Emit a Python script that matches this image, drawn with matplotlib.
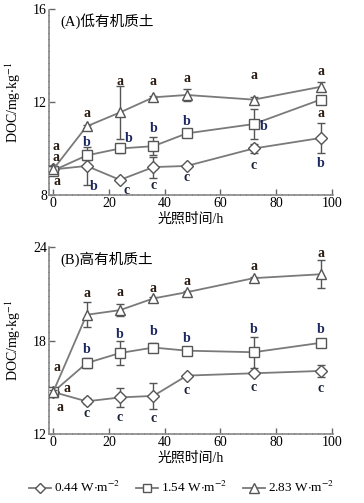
import numpy as np
import matplotlib
matplotlib.use('Agg')
import matplotlib.pyplot as plt
from matplotlib.lines import Line2D

plt.rcParams['font.family'] = ['Liberation Serif', 'Noto Sans CJK SC']
plt.rcParams['mathtext.fontset'] = 'stix'

hours = [0, 12, 24, 36, 48, 72, 96]
series_names = ['0.44 W$\\cdot$m$^{-2}$', '1.54 W$\\cdot$m$^{-2}$', '2.83 W$\\cdot$m$^{-2}$']

# panel A: low organic soil
a_low = [9.1, 9.25, 8.65, 9.2, 9.25, 10.0, 10.45]
a_low_err = [0.15, 0.8, 0.05, 0.45, 0.05, 0.2, 0.65]
a_mid = [9.05, 9.7, 10.0, 10.1, 10.65, 11.05, 12.1]
a_mid_err = [0.15, 0.2, 0.2, 0.4, 0.05, 0.65, 0.1]
a_high = [9.1, 10.95, 11.55, 12.2, 12.3, 12.1, 12.65]
a_high_err = [0.15, 0.05, 1.15, 0.05, 0.25, 0.1, 0.2]

# panel B: high organic soil
b_low = [14.7, 14.1, 14.35, 14.45, 15.75, 15.9, 16.05]
b_low_err = [0.1, 0.2, 0.6, 0.85, 0.05, 0.1, 0.4]
b_mid = [14.7, 16.55, 17.2, 17.55, 17.35, 17.25, 17.85]
b_mid_err = [0.1, 0.3, 0.8, 0.3, 0.05, 1.0, 0.1]
b_high = [14.7, 19.65, 19.95, 20.7, 21.1, 22.0, 22.25]
b_high_err = [0.1, 0.8, 0.4, 0.1, 0.1, 0.1, 0.9]

# significance letters: (x, y, letter)
a_letters_low = [(1.5, 8.6, 'a'), (14.5, 8.35, 'b'), (26.5, 8.2, 'c'), (36, 8.42, 'c'),
                 (48, 8.75, 'c'), (72, 9.25, 'c'), (96, 9.35, 'b')]
a_letters_mid = [(1, 9.6, 'a'), (12, 10.25, 'b'), (27, 10.45, 'b'), (36, 10.88, 'b'),
                 (48, 11.15, 'b'), (75.5, 10.95, 'b'), (96, 11.5, 'a')]
a_letters_high = [(1, 10.1, 'a'), (12, 11.5, 'a'), (24, 12.9, 'a'), (36, 12.9, 'a'),
                  (48, 13.0, 'a'), (72, 13.15, 'a'), (96, 13.3, 'a')]
b_letters_low = [(2.5, 13.7, 'a'), (12, 13.3, 'c'), (24, 13.05, 'c'), (36, 13.0, 'c'),
                 (48, 14.8, 'c'), (72, 15.0, 'c'), (96, 14.95, 'c')]
b_letters_mid = [(5, 14.9, 'a'), (12, 17.45, 'b'), (24, 18.4, 'b'), (36, 18.6, 'b'),
                 (48, 18.15, 'b'), (72, 18.7, 'b'), (96, 18.7, 'b')]
b_letters_high = [(1.3, 16.3, 'a'), (12, 21.0, 'a'), (24, 21.05, 'a'), (36, 21.35, 'a'),
                  (48, 21.8, 'a'), (72, 22.75, 'a'), (96, 23.6, 'a')]

line_col = '#7a7a7a'
markers = ['D', 's', '^']
msizes = [6, 7, 7.5]
letter_cols = {'a': '#2a1c12', 'b': '#1c2660', 'c': '#1c2238'}

fig = plt.figure(figsize=(3.64, 5.03), dpi=100)
axA = fig.add_axes([0.1346, 0.6123, 0.7804, 0.370])
axB = fig.add_axes([0.1346, 0.137, 0.7804, 0.372])


def draw_panel(ax, data, errs, letters, ylim, yticks, title):
    for i in range(3):
        ax.errorbar(hours, data[i], yerr=errs[i], color=line_col, lw=1.3,
                    marker=markers[i], ms=msizes[i], mfc='white', mec='#555555',
                    mew=1.0, ecolor='#555555', elinewidth=1.0, capsize=3, capthick=1.0,
                    zorder=3 + i)
    for group in letters:
        for x, y, s in group:
            ax.text(x, y, s, ha='center', va='center', fontsize=10, fontweight='bold',
                    color=letter_cols[s], zorder=10)
    ax.set_xlim(-1.5, 100.5)
    ax.set_ylim(*ylim)
    ax.set_yticks(yticks)
    ax.set_xticks([0, 20, 40, 60, 80, 100])
    for side in ['top', 'right']:
        ax.spines[side].set_visible(False)
    for side in ['left', 'bottom']:
        ax.spines[side].set_color('#888888')
        ax.spines[side].set_linewidth(1.2)
        ax.spines[side].set_linestyle((0, (3, 0.6)))
    ax.tick_params(direction='in', length=4, width=1, color='#666666', labelsize=10,
                   pad=1.5)
    ax.set_xlabel('光照时间/h', fontsize=10, labelpad=2)
    ax.set_ylabel('DOC/mg$\\cdot$kg$^{-1}$', fontsize=10, labelpad=7)
    ax.text(0.04, 0.935, title, transform=ax.transAxes, fontsize=10.5,
            ha='left', va='center')


draw_panel(axA, [a_low, a_mid, a_high], [a_low_err, a_mid_err, a_high_err],
           [a_letters_low, a_letters_mid, a_letters_high], (8, 16), [8, 12, 16], '(A)低有机质土')
draw_panel(axB, [b_low, b_mid, b_high], [b_low_err, b_mid_err, b_high_err],
           [b_letters_low, b_letters_mid, b_letters_high], (12, 24), [12, 18, 24], '(B)高有机质土')

handles = [Line2D([], [], color=line_col, lw=1.3, marker=markers[i], ms=msizes[i] - 1,
                  mfc='white', mec='#555555') for i in range(3)]
fig.legend(handles, series_names, loc='center', bbox_to_anchor=(0.5, 0.03), ncol=3,
           frameon=False, fontsize=9.5, handlelength=1.6, handletextpad=0.3,
           columnspacing=1.2)

fig.savefig('out.png', dpi=100)
